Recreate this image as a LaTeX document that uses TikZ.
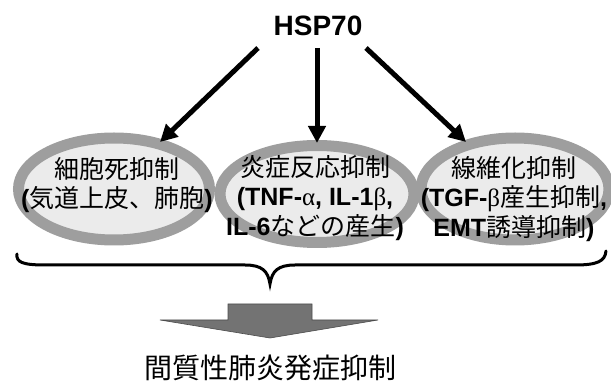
\documentclass[tikz,border=0pt]{standalone}
\usepackage{fontspec}
\setmainfont{Liberation Sans}
\newfontfamily\jpfont{Noto Sans CJK JP}
\newfontfamily\gkfont{Liberation Serif}
\newcommand\jt[1]{{\jpfont\mdseries #1}}
\newcommand\gk[1]{{\gkfont\mdseries #1}}
\usetikzlibrary{shapes.geometric,arrows.meta}
\begin{document}
\begin{tikzpicture}[x=1pt,y=-1pt,
  ring/.style={ellipse, draw=black!38, fill=black!8, line width=11pt, inner sep=0pt},
  lbl/.style={align=center, font=\fontsize{25}{29.5}\selectfont\bfseries, inner sep=0pt},
  arr/.style={line width=5pt, -{Triangle[length=17pt,width=17pt]}},
  brace/.style={line width=3pt, line cap=round},
  blockarrow/.style={fill=black!55, draw=black!70, line width=0.6pt}
]
\useasboundingbox (0,0) rectangle (611,387);

% title
\node[font=\fontsize{28}{30}\selectfont\bfseries, inner sep=0pt] (hsp) at (318,26) {HSP70};

% ellipses
\node[ring, minimum width=191pt, minimum height=102pt] (e1) at (114,189) {};
\node[ring, minimum width=194pt, minimum height=97pt] (e2) at (317,194) {};
\node[ring, minimum width=188pt, minimum height=102pt] (e3) at (515,189) {};

% labels
\node[lbl] (t1) at (117,185) {\jt{細胞死抑制}\\(\jt{気道上皮、肺胞})};
\node[lbl] (t2) at (315,198) {\jt{炎症反応抑制}\\(TNF-\gk{α}, IL-1\gk{β},\\IL-6\jt{などの産生})};
\node[lbl] (t3) at (514,199) {\jt{線維化抑制}\\(TGF-\gk{β}\jt{産生抑制},\\EMT\jt{誘導抑制})};

% arrows
\coordinate (s1) at (258,48);
\coordinate (s2) at (317,48);
\coordinate (s3) at (366,48);
\coordinate (p1) at (160,142);
\coordinate (p2) at (317,143);
\coordinate (p3) at (466,142);
\draw[arr] (s1) -- (p1);
\draw[arr] (s2) -- (p2);
\draw[arr] (s3) -- (p3);

% brace
\draw[brace] (17,254) .. controls (16,262) and (22,265) .. (45,265)
  -- (245,265) .. controls (262,265) and (268,271) .. (270,284)
  .. controls (272,271) and (278,265) .. (295,265)
  -- (575,265) .. controls (598,265) and (605,261) .. (606,251);

% block arrow
\draw[blockarrow] (228,304) -- (312,304) -- (312,320) -- (378,320) -- (270,338)
  -- (160,320) -- (228,320) -- cycle;

% result
\node[inner sep=0pt, font=\fontsize{28}{30}\selectfont] (res) at (270,368) {\jt{間質性肺炎発症抑制}};
\end{tikzpicture}
\end{document}
